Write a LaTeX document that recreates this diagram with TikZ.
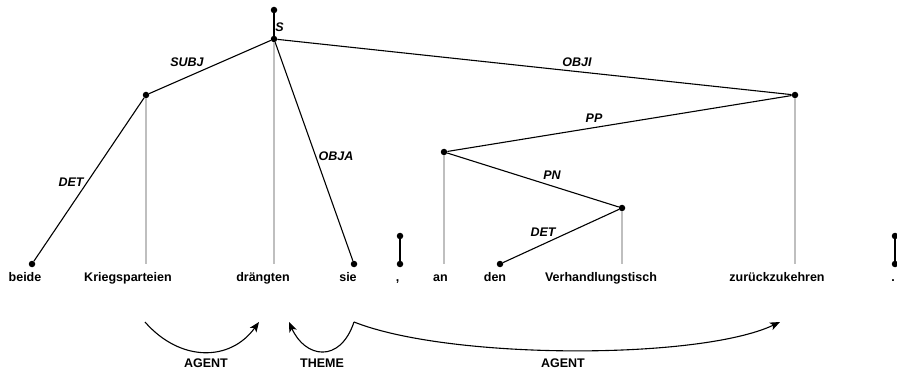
\documentclass[tikz,border=0pt]{standalone}
\usepackage{fontspec}
\setmainfont{Liberation Sans}
\usetikzlibrary{arrows.meta}
\begin{document}
\begin{tikzpicture}[x=1pt,y=-1pt,
  dot/.style={circle,fill=black,inner sep=0pt,minimum size=6.5pt},
  word/.style={anchor=base,inner sep=0pt,font=\fontsize{12.5}{14}\selectfont\bfseries},
  lab/.style={inner sep=0pt,font=\fontsize{12.5}{14}\selectfont\bfseries\itshape},
  role/.style={inner sep=0pt,font=\fontsize{12.5}{14}\selectfont\bfseries},
  edge/.style={line width=1.1pt,black},
  proj/.style={line width=1.1pt,black!25},
  rel/.style={line width=1.1pt,black,-{Stealth[length=10pt,width=8pt,inset=2.5pt]}}]
\useasboundingbox (0,0) rectangle (897,374);

% words of the sentence
\node[word] (w1) at (25,281.5) {beide};
\node[word] (w2) at (128,281.5) {Kriegsparteien};
\node[word] (w3) at (263,281.5) {drängten};
\node[word] (w4) at (348,281.5) {sie};
\node[word] (w5) at (397.5,281.5) {,};
\node[word] (w6) at (440.5,281.5) {an};
\node[word] (w7) at (495,281.5) {den};
\node[word] (w8) at (601,281.5) {Verhandlungstisch};
\node[word] (w9) at (777,281.5) {zurückzukehren};
\node[word] (w10) at (893,281.5) {.};

% tree nodes
\node[dot] (root) at (274,10) {};
\node[dot] (s) at (274,39) {};
\node[dot] (subj) at (146,95) {};
\node[dot] (objI) at (795,95) {};
\node[dot] (pp) at (444,152) {};
\node[dot] (pn) at (622,208) {};
\node[dot] (d1) at (32,264) {};
\node[dot] (d4) at (354,264) {};
\node[dot] (d7) at (500,264) {};
\node[dot] (c1) at (400,236) {};
\node[dot] (c2) at (400,264) {};
\node[dot] (p1) at (895,236) {};
\node[dot] (p2) at (895,264) {};

% feet of the projection lines
\coordinate (f2) at (146,264);
\coordinate (f3) at (274,264);
\coordinate (f6) at (444,264);
\coordinate (f8) at (622,264);
\coordinate (f9) at (795,264);

% projection lines
\draw[proj] (subj) -- (f2);
\draw[proj] (s) -- (f3);
\draw[proj] (pp) -- (f6);
\draw[proj] (pn) -- (f8);
\draw[proj] (objI) -- (f9);

% dependency edges
\draw[edge] (root) -- (s);
\draw[edge] (s) -- (subj);
\draw[edge] (subj) -- (d1);
\draw[edge] (s) -- (d4);
\draw[edge] (s) -- (objI);
\draw[edge] (objI) -- (pp);
\draw[edge] (pp) -- (pn);
\draw[edge] (pn) -- (d7);
\draw[edge] (c1) -- (c2);
\draw[edge] (p1) -- (p2);

% edge labels
\node[lab] (lS) at (279.5,27) {S};
\node[lab] (lSUBJ) at (187,62) {SUBJ};
\node[lab] (lDET1) at (71,182) {DET};
\node[lab] (lOBJA) at (336,156) {OBJA};
\node[lab] (lOBJI) at (577,62) {OBJI};
\node[lab] (lPP) at (594,118) {PP};
\node[lab] (lPN) at (552,175) {PN};
\node[lab] (lDET2) at (543,232) {DET};

% semantic role arcs
\coordinate (a1s) at (145,322);
\coordinate (a1e) at (259,322);
\coordinate (a2s) at (354,322);
\coordinate (a2e) at (289,322);
\coordinate (a3e) at (780,322);
\draw[rel] (a1s) .. controls (180,362) and (230,362) .. (a1e);
\draw[rel] (a2s) .. controls (340,364) and (305,358) .. (a2e);
\draw[rel] (a2s) .. controls (450,360) and (700,360) .. (a3e);

\node[role] (r1) at (206,363) {AGENT};
\node[role] (r2) at (322,363) {THEME};
\node[role] (r3) at (563,363) {AGENT};
\end{tikzpicture}
\end{document}
